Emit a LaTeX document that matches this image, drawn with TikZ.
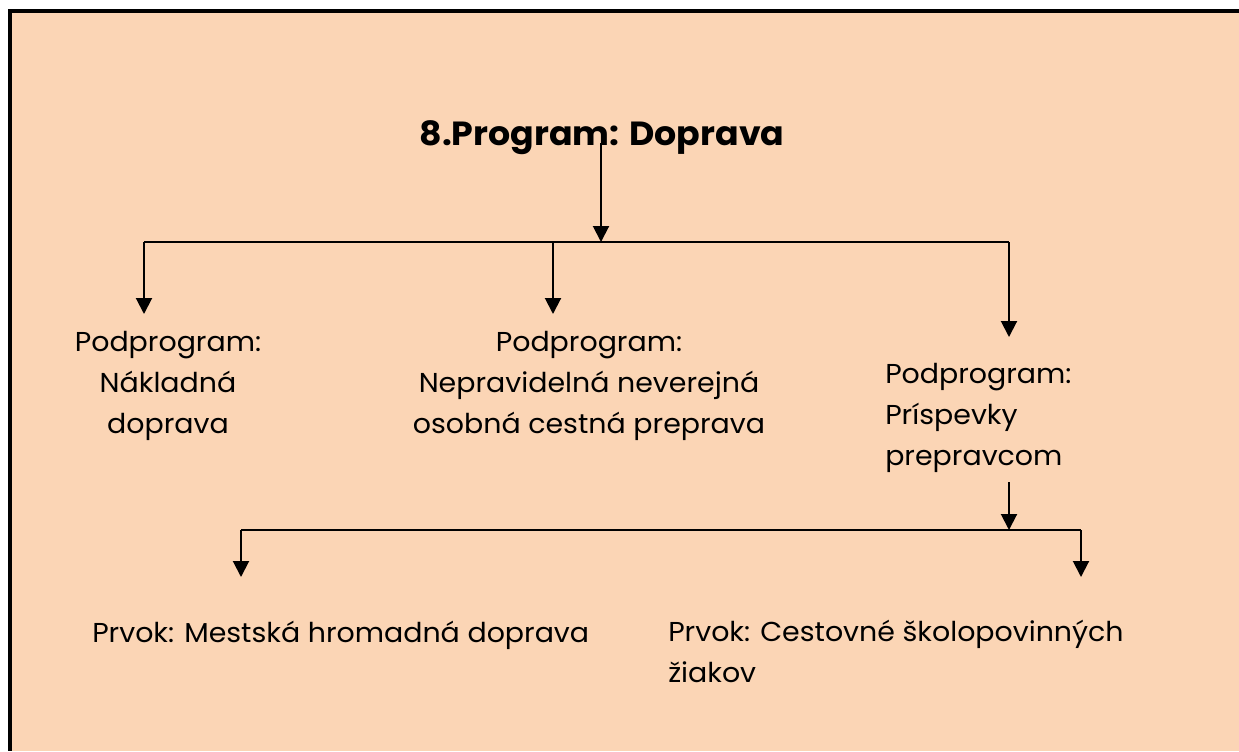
\documentclass[tikz,border=0pt]{standalone}
\usepackage{fontspec}
\setmainfont[FakeStretch=1.04]{Poppins}
\usetikzlibrary{arrows.meta}
\definecolor{bgtan}{RGB}{251,213,181}
\begin{document}
\begin{tikzpicture}[x=0.75pt,y=-0.75pt,
  arr/.style={line width=1.5pt,-{Triangle[width=12pt,length=12pt]}},
  bus/.style={line width=1.5pt},
  lbl/.style={font=\fontsize{20.5}{30.5}\selectfont, inner sep=0pt, anchor=base},
  ttl/.style={font=\fontsize{25.1}{30}\selectfont\bfseries, inner sep=0pt, anchor=base}]
\useasboundingbox (0,0) rectangle (1239,751);
\fill[bgtan] (12,13) rectangle (1239,751);
\fill[black] (8,9) rectangle (1239,13);
\fill[black] (8,9) rectangle (12,751);
% texts (base anchor = baseline of the last line)
\node[ttl] (t) at (602,145) {8.Program: Doprava};
\node[lbl, align=center] (a) at (168,433) {Podprogram:\\Nákladná\\doprava};
\node[lbl, align=center] (b) at (589,433) {Podprogram:\\Nepravidelná neverejná\\osobná cestná preprava};
\node[lbl, align=left, anchor=base west] (c) at (885,465) {Podprogram:\\Príspevky\\prepravcom};
\node[lbl, anchor=base west] (d) at (92,642) {Prvok: Mestská hromadná doprava};
\node[lbl, align=left, anchor=base west] (e) at (668,682) {Prvok: Cestovné školopovinných\\žiakov};
% connector coordinates
\coordinate (t0) at (601,143);
\coordinate (j1) at (601,242);
\coordinate (bl) at (144,242);
\coordinate (bm) at (553,242);
\coordinate (br) at (1009,242);
\coordinate (ta) at (144,314);
\coordinate (tb) at (553,314);
\coordinate (tc) at (1009,337);
\coordinate (c0) at (1009,482);
\coordinate (j2) at (1009,530);
\coordinate (dl) at (241,530);
\coordinate (dr) at (1081,530);
\coordinate (td) at (241,577);
\coordinate (te) at (1081,577);
% connectors
\draw[arr] (t0) -- (j1);
\draw[bus] (bl) -- (br);
\draw[arr] (bl) -- (ta);
\draw[arr] (bm) -- (tb);
\draw[arr] (br) -- (tc);
\draw[arr] (c0) -- (j2);
\draw[bus] (dl) -- (dr);
\draw[arr] (dl) -- (td);
\draw[arr] (dr) -- (te);
\end{tikzpicture}
\end{document}
